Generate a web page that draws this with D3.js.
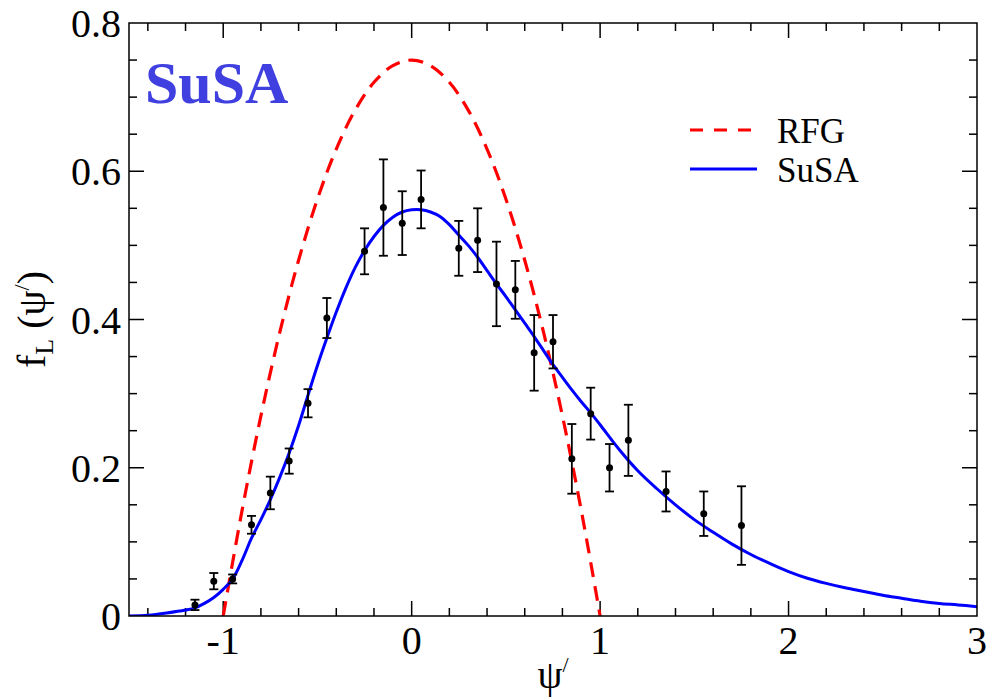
<!DOCTYPE html>
<html>
<head>
<meta charset="utf-8">
<script src="https://cdn.jsdelivr.net/npm/d3@7"></script>
<style>
  html, body { margin: 0; padding: 0; background: #ffffff; }
  svg { display: block; }
  text { font-family: "Liberation Serif", "Times New Roman", serif; }
</style>
</head>
<body>
<script>
// ---- data ----
const dataX   = [-1.15,-1.05,-0.95,-0.85,-0.75,-0.65,-0.55,-0.45,-0.25,-0.15,-0.05,0.05,0.25,0.35,0.45,0.55,0.65,0.75,0.85,0.95,1.05,1.15,1.35,1.55,1.75];
const dataY   = [0.015,0.047,0.050,0.123,0.166,0.209,0.287,0.402,0.492,0.551,0.530,0.562,0.496,0.507,0.448,0.440,0.355,0.370,0.212,0.273,0.200,0.237,0.168,0.138,0.122];
const dataErr = [0.007,0.011,0.006,0.012,0.022,0.017,0.019,0.027,0.031,0.065,0.043,0.039,0.037,0.043,0.057,0.039,0.051,0.036,0.047,0.035,0.032,0.048,0.027,0.030,0.053];

const rfgX = [-1.0,-0.9,-0.8,-0.7,-0.6,-0.5,-0.4,-0.3,-0.2,-0.1,0.0,0.1,0.2,0.3,0.4,0.5,0.6,0.7,0.8,0.9,1.0];
const rfgY = [0.0,0.1425,0.27,0.3825,0.48,0.5625,0.63,0.6825,0.72,0.7425,0.75,0.7425,0.72,0.6825,0.63,0.5625,0.48,0.3825,0.27,0.1425,0.0];

const susaX = [-1.5,-1.4,-1.3,-1.2,-1.15,-1.1,-1.05,-1.0,-0.95,-0.9,-0.85,-0.8,-0.75,-0.7,-0.65,-0.6,-0.55,-0.5,-0.45,-0.4,-0.35,-0.3,-0.25,-0.2,-0.15,-0.1,-0.05,0.0,0.05,0.1,0.15,0.2,0.25,0.3,0.35,0.4,0.45,0.5,0.55,0.6,0.65,0.7,0.75,0.8,0.85,0.9,0.95,1.0,1.1,1.2,1.3,1.4,1.5,1.6,1.7,1.8,1.9,2.0,2.1,2.2,2.3,2.4,2.5,2.6,2.7,2.8,2.9,3.0];
const susaY = [0.000,0.001,0.004,0.008,0.011,0.017,0.025,0.036,0.050,0.075,0.105,0.130,0.157,0.187,0.220,0.257,0.298,0.338,0.375,0.410,0.442,0.470,0.493,0.512,0.527,0.538,0.545,0.548,0.548,0.545,0.539,0.528,0.514,0.500,0.484,0.466,0.448,0.431,0.413,0.395,0.377,0.358,0.339,0.322,0.305,0.289,0.274,0.258,0.225,0.196,0.172,0.150,0.130,0.113,0.097,0.083,0.071,0.060,0.051,0.044,0.038,0.033,0.028,0.024,0.020,0.017,0.015,0.0126];

const xTickValues = [-1, 0, 1, 2, 3];
const xTickLabels = ["-1", "0", "1", "2", "3"];
const yTickValues = [0, 0.2, 0.4, 0.6, 0.8];
const yTickLabels = ["0", "0.2", "0.4", "0.6", "0.8"];
const legendLabels = ["RFG", "SuSA"];
const legendColors = ["#ff0000", "#0000ff"];

// ---- layout ----
const W = 988, H = 699;
const L = 129, R = 977, T = 23, B = 616;

const x = d3.scaleLinear().domain([-1.5, 3]).range([L, R]);
const y = d3.scaleLinear().domain([0, 0.8]).range([B, T]);

const svg = d3.select("body").append("svg").attr("width", W).attr("height", H);
svg.append("rect").attr("width", W).attr("height", H).attr("fill", "#ffffff");

svg.append("defs").append("clipPath").attr("id", "clip")
  .append("rect").attr("x", L).attr("y", T).attr("width", R - L).attr("height", B - T);

// ticks (inward, on all four sides)
const xMinor = d3.range(-1.4, 3.0001, 0.2).map(v => +v.toFixed(2)).filter(v => !xTickValues.includes(Math.round(v*100)/100));
const yMinor = d3.range(0.05, 0.8, 0.05).map(v => +v.toFixed(2)).filter(v => Math.abs(v*5 - Math.round(v*5)) > 1e-6);

const axes = svg.append("g").attr("stroke", "#000").attr("stroke-width", 1.5);
function xTicks(vals, len) {
  vals.forEach(v => {
    if (x(v) <= L + 0.5 || x(v) >= R - 0.5) return;
    axes.append("line").attr("x1", x(v)).attr("x2", x(v)).attr("y1", B).attr("y2", B - len);
    axes.append("line").attr("x1", x(v)).attr("x2", x(v)).attr("y1", T).attr("y2", T + len);
  });
}
function yTicks(vals, len) {
  vals.forEach(v => {
    if (y(v) >= B - 0.5 || y(v) <= T + 0.5) return;
    axes.append("line").attr("y1", y(v)).attr("y2", y(v)).attr("x1", L).attr("x2", L + len);
    axes.append("line").attr("y1", y(v)).attr("y2", y(v)).attr("x1", R).attr("x2", R - len);
  });
}
xTicks(xTickValues, 15);
xTicks(xMinor, 8);
yTicks(yTickValues, 15);
yTicks(yMinor, 8);

// tick labels
svg.append("g").selectAll("text").data(xTickValues).join("text")
  .attr("x", d => x(d)).attr("y", B + 38)
  .attr("text-anchor", "middle").attr("font-size", 40).attr("fill", "#000")
  .text((d, i) => xTickLabels[i]);
svg.append("g").selectAll("text").data(yTickValues).join("text")
  .attr("x", L - 8).attr("y", d => y(d) + 14)
  .attr("text-anchor", "end").attr("font-size", 40).attr("fill", "#000")
  .text((d, i) => yTickLabels[i]);

// curves
const plot = svg.append("g").attr("clip-path", "url(#clip)");
const line = d3.line().x(d => x(d[0])).y(d => y(d[1])).curve(d3.curveCatmullRom.alpha(0.5));

plot.append("path")
  .datum(rfgX.map((v, i) => [v, rfgY[i]]))
  .attr("d", line).attr("fill", "none")
  .attr("stroke", legendColors[0]).attr("stroke-width", 3.2).attr("stroke-dasharray", "15,9");

plot.append("path")
  .datum(susaX.map((v, i) => [v, susaY[i]]))
  .attr("d", line).attr("fill", "none")
  .attr("stroke", legendColors[1]).attr("stroke-width", 3);

// data points with error bars
const pts = svg.append("g");
dataX.forEach((v, i) => {
  const cx = x(v), y0 = y(dataY[i] - dataErr[i]), y1 = y(dataY[i] + dataErr[i]);
  pts.append("line").attr("x1", cx).attr("x2", cx).attr("y1", y0).attr("y2", y1)
    .attr("stroke", "#000").attr("stroke-width", 1.8);
  [y0, y1].forEach(yy => pts.append("line").attr("x1", cx - 4.5).attr("x2", cx + 4.5)
    .attr("y1", yy).attr("y2", yy).attr("stroke", "#000").attr("stroke-width", 1.8));
  pts.append("circle").attr("cx", cx).attr("cy", y(dataY[i])).attr("r", 3.5).attr("fill", "#000");
});

// frame
svg.append("rect").attr("x", L).attr("y", T).attr("width", R - L).attr("height", B - T)
  .attr("fill", "none").attr("stroke", "#000").attr("stroke-width", 1.5);

// title inside plot
svg.append("text").attr("x", 145).attr("y", 103)
  .attr("font-size", 60).attr("font-weight", "bold").attr("fill", "#4040e0")
  .text("SuSA");

// legend
const lg = svg.append("g");
legendLabels.forEach((lab, i) => {
  const ly = 130 + i * 39;
  lg.append("line").attr("x1", 690).attr("x2", 757).attr("y1", ly).attr("y2", ly)
    .attr("stroke", legendColors[i]).attr("stroke-width", 3)
    .attr("stroke-dasharray", i === 0 ? "13,11" : null);
  lg.append("text").attr("x", 777).attr("y", ly + 13)
    .attr("font-size", 35).attr("fill", "#000").text(lab);
});

// axis titles
const xt = svg.append("text").attr("x", (L + R) / 2).attr("y", 688)
  .attr("text-anchor", "middle").attr("font-size", 40).attr("fill", "#000");
xt.append("tspan").text("ψ");
xt.append("tspan").attr("font-size", 22).attr("dy", -16).text("/");

const yt = svg.append("text")
  .attr("transform", `translate(45,${(T + B) / 2}) rotate(-90)`)
  .attr("text-anchor", "middle").attr("font-size", 40).attr("fill", "#000");
yt.append("tspan").text("f");
yt.append("tspan").attr("font-size", 26).attr("dy", 8).text("L");
yt.append("tspan").attr("dy", -8).text(" (ψ");
yt.append("tspan").attr("font-size", 22).attr("dy", -16).text("/");
yt.append("tspan").attr("dy", 16).text(")");
</script>
</body>
</html>
